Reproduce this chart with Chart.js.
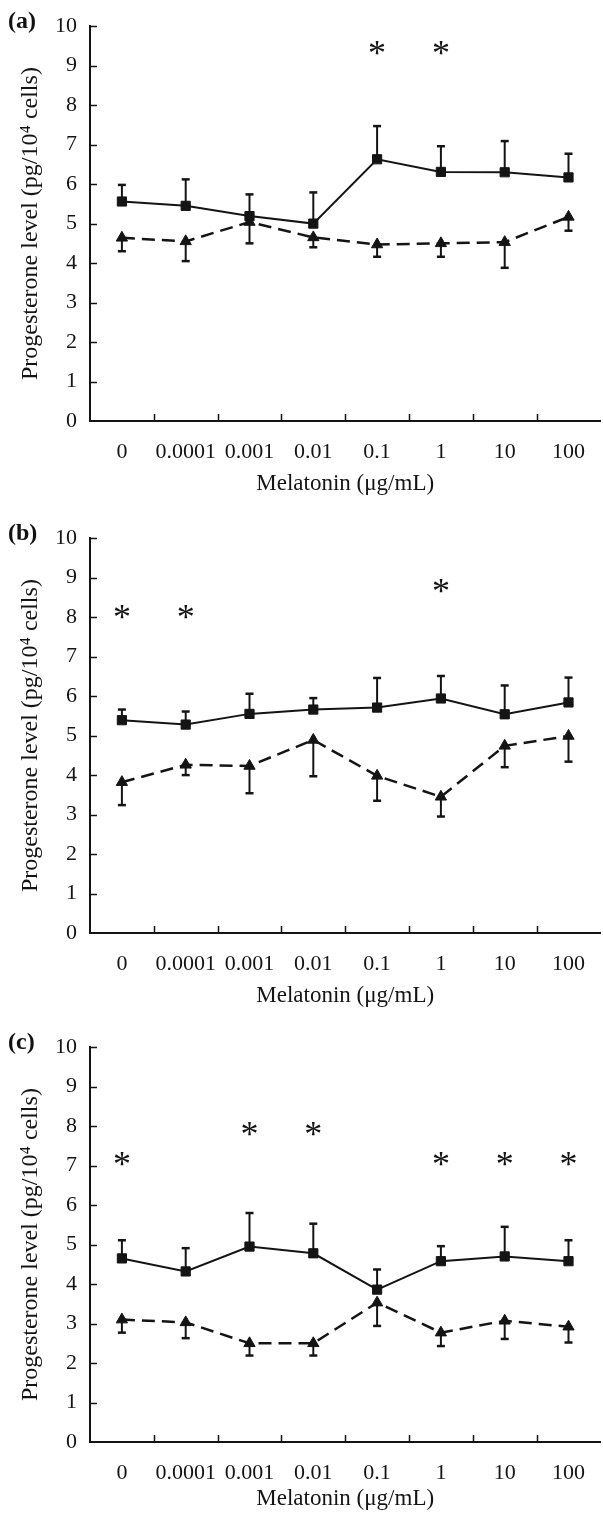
<!DOCTYPE html>
<html>
<head>
<meta charset="utf-8">
<script src="https://cdn.jsdelivr.net/npm/chart.js@4.4.1/dist/chart.umd.min.js"></script>
<style>
  html, body { margin: 0; padding: 0; background: #fff; overflow: hidden; }
  .panel { position: absolute; left: 0; }
  .tag { position: absolute; left: 8px; font: bold 24px "Liberation Serif", serif; line-height: 24px; color: #111; }
</style>
</head>
<body>
<div class="panel" style="top:0px"><canvas id="pa" width="603" height="500"></canvas><div class="tag" style="top:8px">(a)</div></div>
<div class="panel" style="top:512px"><canvas id="pb" width="603" height="500"></canvas><div class="tag" style="top:8px">(b)</div></div>
<div class="panel" style="top:1021px"><canvas id="pc" width="603" height="494"></canvas><div class="tag" style="top:8px">(c)</div></div>
<script>
const doses = ['0', '0.0001', '0.001', '0.01', '0.1', '1', '10', '100'];
const yMin = 0, yMax = 10, yStep = 1;

// panel (a)
const aSquare = [5.56, 5.45, 5.19, 5.00, 6.63, 6.31, 6.30, 6.17];
const aSquareSd = [0.42, 0.67, 0.55, 0.79, 0.84, 0.65, 0.79, 0.60];
const aTri = [4.64, 4.55, 5.04, 4.65, 4.47, 4.50, 4.53, 5.17];
const aTriSd = [0.34, 0.50, 0.54, 0.25, 0.31, 0.34, 0.65, 0.35];
const aStars = [null, null, null, null, 9.46, 9.46, null, null];

// panel (b)
const bSquare = [5.39, 5.28, 5.55, 5.66, 5.71, 5.94, 5.54, 5.84];
const bSquareSd = [0.27, 0.33, 0.51, 0.29, 0.75, 0.57, 0.73, 0.63];
const bTri = [3.82, 4.26, 4.23, 4.89, 3.98, 3.45, 4.74, 4.99];
const bTriSd = [0.58, 0.26, 0.69, 0.92, 0.63, 0.50, 0.54, 0.65];
const bStars = [8.12, 8.12, null, null, null, 8.80, null, null];

// panel (c)
const cSquare = [4.65, 4.32, 4.95, 4.78, 3.86, 4.58, 4.70, 4.58];
const cSquareSd = [0.46, 0.59, 0.85, 0.75, 0.51, 0.38, 0.75, 0.53];
const cTri = [3.10, 3.03, 2.50, 2.50, 3.53, 2.77, 3.07, 2.92];
const cTriSd = [0.33, 0.40, 0.31, 0.31, 0.59, 0.34, 0.46, 0.40];
const cStars = [7.17, null, 7.92, 7.92, null, 7.17, 7.17, 7.17];

const INK = '#141414';
const SERIF = '"Liberation Serif", "DejaVu Serif", serif';

// inward ticks, one-sided error bars and significance stars
const marks = {
  id: 'marks',
  beforeDatasetsDraw(chart) {
    const { ctx, chartArea: a, scales: { x, y } } = chart;
    ctx.save();
    ctx.strokeStyle = INK;
    ctx.lineWidth = 1.5;
    ctx.beginPath();
    for (let v = yMin + yStep; v <= yMax; v += yStep) {
      const py = Math.round(y.getPixelForValue(v)) + 0.5;
      ctx.moveTo(a.left, py); ctx.lineTo(a.left + 7, py);
    }
    for (let i = 0; i < doses.length - 1; i++) {
      const px = Math.round((x.getPixelForValue(i) + x.getPixelForValue(i + 1)) / 2) + 0.5;
      ctx.moveTo(px, a.bottom); ctx.lineTo(px, a.bottom - 7);
    }
    ctx.stroke();

    chart.data.datasets.forEach(ds => {
      ds.data.forEach((v, i) => {
        const px = x.getPixelForValue(i);
        const y0 = y.getPixelForValue(v);
        const y1 = y.getPixelForValue(v + ds.dir * ds.sd[i]);
        ctx.lineWidth = 2;
        ctx.beginPath();
        ctx.moveTo(px, y0); ctx.lineTo(px, y1);
        ctx.stroke();
        ctx.lineWidth = 2.5;
        ctx.beginPath();
        ctx.moveTo(px - 4, y1); ctx.lineTo(px + 4, y1);
        ctx.stroke();
      });
    });
    ctx.restore();
  },
  afterDatasetsDraw(chart) {
    const { ctx, scales: { x, y } } = chart;
    const stars = chart.options.plugins.marks.stars;
    ctx.save();
    ctx.fillStyle = INK;
    ctx.font = '36px ' + SERIF;
    ctx.textAlign = 'center';
    ctx.textBaseline = 'alphabetic';
    const m = ctx.measureText('*');
    const shift = (m.actualBoundingBoxAscent - m.actualBoundingBoxDescent) / 2;
    stars.forEach((v, i) => {
      if (v === null) return;
      ctx.fillText('*', x.getPixelForValue(i), y.getPixelForValue(v) + shift);
    });
    ctx.restore();
  }
};

function makePanel(id, sq, sqSd, tri, triSd, stars) {
  const canvas = document.getElementById(id);
  const H = canvas.height;
  new Chart(canvas, {
    type: 'line',
    data: {
      labels: doses,
      datasets: [{
        data: sq, sd: sqSd, dir: 1,
        borderColor: INK, borderWidth: 2,
        pointStyle: 'rect', pointRadius: 6.5,
        pointBackgroundColor: INK, pointBorderColor: INK, pointBorderWidth: 1,
        tension: 0, fill: false
      }, {
        data: tri, sd: triSd, dir: -1,
        borderColor: INK, borderWidth: 2.5, borderDash: [13, 7],
        pointStyle: 'triangle', pointRadius: 6.5,
        pointBackgroundColor: INK, pointBorderColor: INK, pointBorderWidth: 1,
        tension: 0, fill: false
      }]
    },
    options: {
      responsive: false,
      animation: false,
      events: [],
      layout: { autoPadding: false, padding: { top: 18, right: 0, left: 0, bottom: 0 } },
      plugins: {
        legend: { display: false },
        tooltip: { enabled: false },
        marks: { stars: stars }
      },
      scales: {
        x: {
          offset: true,
          grid: { display: false, drawTicks: false },
          border: { display: true, color: INK, width: 2 },
          ticks: { color: INK, font: { family: SERIF, size: 22 }, padding: 18, maxRotation: 0, autoSkip: false },
          title: { display: true, text: 'Melatonin (μg/mL)', color: INK, font: { family: SERIF, size: 23 }, padding: { top: 0, bottom: 2 } },
          afterFit(s) { s.height = H - 421; }
        },
        y: {
          min: yMin, max: yMax,
          grid: { display: false, drawTicks: false },
          border: { display: true, color: INK, width: 2 },
          ticks: { stepSize: yStep, color: INK, font: { family: SERIF, size: 22 }, padding: 13 },
          title: { display: true, text: 'Progesterone level (pg/10⁴ cells)', color: INK, font: { family: SERIF, size: 24 }, padding: { top: 16, bottom: 0 } },
          afterFit(s) { s.width = 90; }
        }
      }
    },
    plugins: [marks]
  });
}

makePanel('pa', aSquare, aSquareSd, aTri, aTriSd, aStars);
makePanel('pb', bSquare, bSquareSd, bTri, bTriSd, bStars);
makePanel('pc', cSquare, cSquareSd, cTri, cTriSd, cStars);
</script>
</body>
</html>
